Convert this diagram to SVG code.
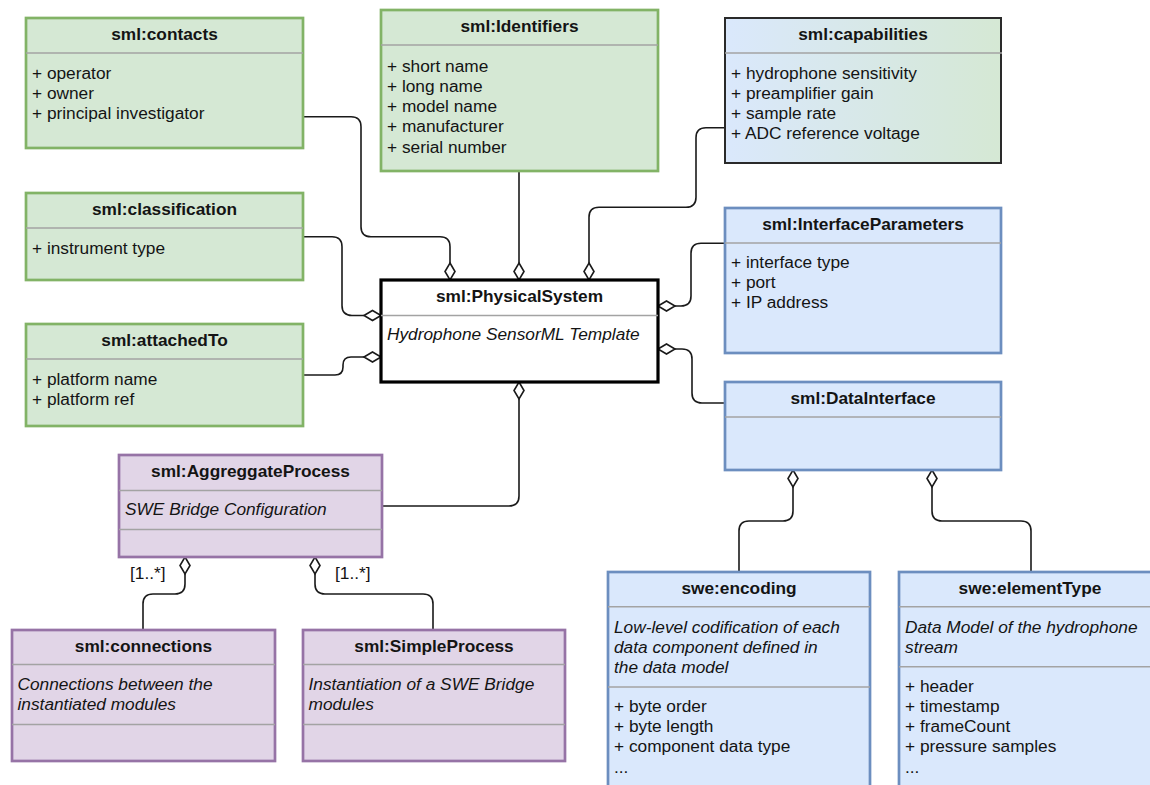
<svg xmlns="http://www.w3.org/2000/svg" width="1150" height="785" viewBox="0 0 1150 785">
  <defs>
    <linearGradient id="capFill" x1="0" y1="0" x2="1" y2="0">
      <stop offset="0" stop-color="#dae8fc"/>
      <stop offset="1" stop-color="#d5e8d4"/>
    </linearGradient>
    <style>
      text { font-family: "Liberation Sans", Arial, sans-serif; font-size: 17.3px; fill: #141414; }
      .title { font-weight: bold; text-anchor: middle; }
      .it { font-style: italic; }
      .green { fill: #d5e8d4; stroke: #82b366; stroke-width: 2.7; }
      .blue { fill: #dae8fc; stroke: #6c8ebf; stroke-width: 2.7; }
      .purple { fill: #e1d5e7; stroke: #9673a6; stroke-width: 2.7; }
      .cap { fill: url(#capFill); stroke: #2a2a2a; stroke-width: 2; }
      .main { fill: #ffffff; stroke: #000000; stroke-width: 3.2; }
      .sep { stroke: #a3a3a3; stroke-width: 1.5; fill: none; }
      .edge { fill: none; stroke: #1a1a1a; stroke-width: 1.6; }
      .dia { fill: #ffffff; stroke: #1a1a1a; stroke-width: 1.6; }
      .mult { font-size: 17.3px; }
    </style>
  </defs>
  <rect width="1150" height="785" fill="#ffffff"/>

  <!-- connectors -->
  <g id="connectors">
    <path class="edge" d="M303,116.7 H351 Q361,116.7 361,126.7 V226.7 Q361,236.7 371,236.7 H440 Q450,236.7 450,246.7 V263"/>
    <polygon class="dia" points="450,263 455,271.5 450,280 445,271.5"/>

    <path class="edge" d="M519,171 V263"/>
    <polygon class="dia" points="519,263 524,271.5 519,280 514,271.5"/>

    <path class="edge" d="M725,127.7 H706 Q696,127.7 696,137.7 V197.3 Q696,207.3 686,207.3 H599 Q589,207.3 589,217.3 V263"/>
    <polygon class="dia" points="589,263 594,271.5 589,280 584,271.5"/>

    <path class="edge" d="M303,236.7 H332 Q342,236.7 342,246.7 V305.5 Q342,315.5 352,315.5 H364"/>
    <polygon class="dia" points="364,315.5 372.5,310.5 381,315.5 372.5,320.5"/>

    <path class="edge" d="M303,375 H335 Q343,375 343,367 V365 Q343,357 351,357 H364"/>
    <polygon class="dia" points="364,357 372.5,352 381,357 372.5,362"/>

    <path class="edge" d="M725,243.3 H701 Q691,243.3 691,253.3 V296 Q691,306 681,306 H675"/>
    <polygon class="dia" points="658,306 666.5,301 675,306 666.5,311"/>

    <path class="edge" d="M675,349 H682 Q692,349 692,359 V393 Q692,403 702,403 H725"/>
    <polygon class="dia" points="658,349 666.5,344 675,349 666.5,354"/>

    <path class="edge" d="M382,506 H509 Q519,506 519,496 V399"/>
    <polygon class="dia" points="519,382 524,390.5 519,399 514,390.5"/>

    <path class="edge" d="M185,574 V584 Q185,594 175,594 H153 Q143,594 143,604 V630"/>
    <polygon class="dia" points="185,557 190,565.5 185,574 180,565.5"/>
    <text class="mult" x="130" y="579">[1..*]</text>

    <path class="edge" d="M315,574 V584 Q315,594 325,594 H423 Q433,594 433,604 V630"/>
    <polygon class="dia" points="315,557 320,565.5 315,574 310,565.5"/>
    <text class="mult" x="335" y="579">[1..*]</text>

    <path class="edge" d="M793,487 V511 Q793,521 783,521 H749 Q739,521 739,531 V572"/>
    <polygon class="dia" points="793,470 798,478.5 793,487 788,478.5"/>

    <path class="edge" d="M932,487 V511 Q932,521 942,521 H1021 Q1031,521 1031,531 V572"/>
    <polygon class="dia" points="932,470 937,478.5 932,487 927,478.5"/>
  </g>

  <!-- nodes -->
  <g id="contacts">
    <rect class="green" x="26" y="18" width="277" height="130"/>
    <line class="sep" x1="26" y1="53" x2="303" y2="53"/>
    <text class="title" x="164.5" y="39.5">sml:contacts</text>
    <text x="32" y="79">+ operator</text>
    <text x="32" y="99">+ owner</text>
    <text x="32" y="119">+ principal investigator</text>
  </g>

  <g id="identifiers">
    <rect class="green" x="381" y="10" width="277" height="161"/>
    <line class="sep" x1="381" y1="45" x2="658" y2="45"/>
    <text class="title" x="519.5" y="31.5">sml:Identifiers</text>
    <text x="387" y="72">+ short name</text>
    <text x="387" y="92">+ long name</text>
    <text x="387" y="112">+ model name</text>
    <text x="387" y="132">+ manufacturer</text>
    <text x="387" y="152.5">+ serial number</text>
  </g>

  <g id="capabilities">
    <rect class="cap" x="725" y="18" width="276" height="145"/>
    <line class="sep" x1="725" y1="53" x2="1002" y2="53"/>
    <text class="title" x="863" y="39.5">sml:capabilities</text>
    <text x="731" y="79">+ hydrophone sensitivity</text>
    <text x="731" y="99">+ preamplifier gain</text>
    <text x="731" y="119">+ sample rate</text>
    <text x="731" y="139">+ ADC reference voltage</text>
  </g>

  <g id="classification">
    <rect class="green" x="26" y="193" width="277" height="87"/>
    <line class="sep" x1="26" y1="228" x2="303" y2="228"/>
    <text class="title" x="164.5" y="214.5">sml:classification</text>
    <text x="32" y="253.5">+ instrument type</text>
  </g>

  <g id="attachedTo">
    <rect class="green" x="26" y="324" width="277" height="102"/>
    <line class="sep" x1="26" y1="359" x2="303" y2="359"/>
    <text class="title" x="164.5" y="345.5">sml:attachedTo</text>
    <text x="32" y="384.5">+ platform name</text>
    <text x="32" y="404.5">+ platform ref</text>
  </g>

  <g id="physicalSystem">
    <rect class="main" x="381" y="280" width="277" height="102"/>
    <line class="sep" x1="381" y1="315.5" x2="658" y2="315.5"/>
    <text class="title" x="519.5" y="301.5">sml:PhysicalSystem</text>
    <text class="it" x="387" y="340">Hydrophone SensorML Template</text>
  </g>

  <g id="interfaceParameters">
    <rect class="blue" x="725" y="208" width="276" height="145"/>
    <line class="sep" x1="725" y1="243" x2="1001" y2="243"/>
    <text class="title" x="863" y="229.5">sml:InterfaceParameters</text>
    <text x="731" y="268">+ interface type</text>
    <text x="731" y="288">+ port</text>
    <text x="731" y="308">+ IP address</text>
  </g>

  <g id="dataInterface">
    <rect class="blue" x="725" y="382" width="276" height="88"/>
    <line class="sep" x1="725" y1="417" x2="1001" y2="417"/>
    <text class="title" x="863" y="403.5">sml:DataInterface</text>
  </g>

  <g id="aggregateProcess">
    <rect class="purple" x="119" y="455" width="263" height="102"/>
    <line class="sep" x1="119" y1="490.5" x2="382" y2="490.5"/>
    <line class="sep" x1="119" y1="529.5" x2="382" y2="529.5"/>
    <text class="title" x="250.5" y="476.5">sml:AggreggateProcess</text>
    <text class="it" x="125" y="515">SWE Bridge Configuration</text>
  </g>

  <g id="connections">
    <rect class="purple" x="12" y="630" width="263" height="131"/>
    <line class="sep" x1="12" y1="664.5" x2="275" y2="664.5"/>
    <line class="sep" x1="12" y1="724.5" x2="275" y2="724.5"/>
    <text class="title" x="143.5" y="651.5">sml:connections</text>
    <text class="it" x="17.5" y="690">Connections between the</text>
    <text class="it" x="17.5" y="710">instantiated modules</text>
  </g>

  <g id="simpleProcess">
    <rect class="purple" x="303" y="630" width="262" height="131"/>
    <line class="sep" x1="303" y1="664.5" x2="565" y2="664.5"/>
    <line class="sep" x1="303" y1="724.5" x2="565" y2="724.5"/>
    <text class="title" x="434" y="651.5">sml:SimpleProcess</text>
    <text class="it" x="308.5" y="690">Instantiation of a SWE Bridge</text>
    <text class="it" x="308.5" y="710">modules</text>
  </g>

  <g id="encoding">
    <rect class="blue" x="608" y="572" width="262" height="240"/>
    <line class="sep" x1="608" y1="606.7" x2="870" y2="606.7"/>
    <line class="sep" x1="608" y1="687" x2="870" y2="687"/>
    <text class="title" x="739" y="593.5">swe:encoding</text>
    <text class="it" x="614" y="632.7">Low-level codification of each</text>
    <text class="it" x="614" y="652.7">data component defined in</text>
    <text class="it" x="614" y="672.7">the data model</text>
    <text x="614" y="712">+ byte order</text>
    <text x="614" y="732">+ byte length</text>
    <text x="614" y="752">+ component data type</text>
    <text x="614" y="772.5">...</text>
  </g>

  <g id="elementType">
    <rect class="blue" x="899" y="572" width="262" height="240"/>
    <line class="sep" x1="899" y1="606.7" x2="1161" y2="606.7"/>
    <line class="sep" x1="899" y1="666.7" x2="1161" y2="666.7"/>
    <text class="title" x="1030" y="593.5">swe:elementType</text>
    <text class="it" x="905" y="632.7">Data Model of the hydrophone</text>
    <text class="it" x="905" y="652.7">stream</text>
    <text x="905" y="691.5">+ header</text>
    <text x="905" y="711.5">+ timestamp</text>
    <text x="905" y="731.5">+ frameCount</text>
    <text x="905" y="752">+ pressure samples</text>
    <text x="905" y="772.5">...</text>
  </g>
</svg>
